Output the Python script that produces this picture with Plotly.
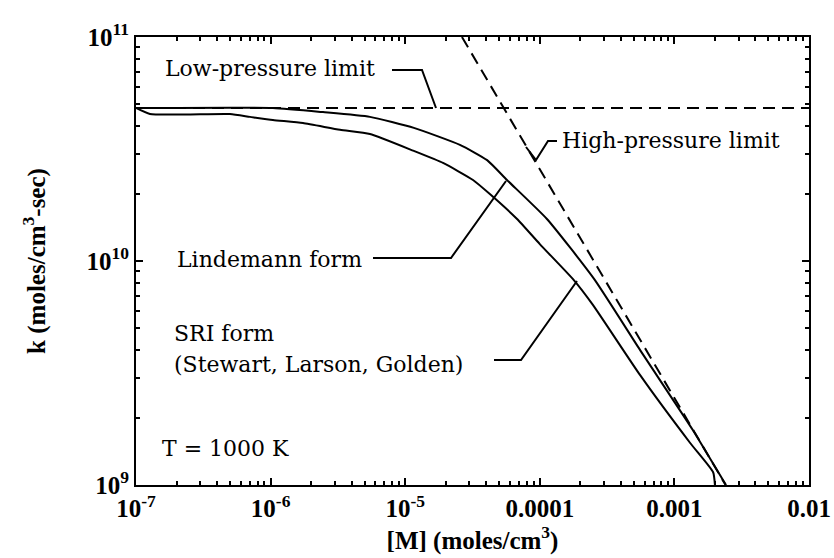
import plotly.graph_objects as go

# Rate constant k versus bath-gas concentration [M] at T = 1000 K
conc_lindemann = [1.00e-7, 1.04e-6, 2.45e-6, 5.47e-6, 1.16e-5, 2.55e-5, 4.06e-5,
                  5.70e-5, 1.13e-4, 2.53e-4, 5.55e-4, 1.37e-3, 2.30e-3, 2.42e-3]
k_lindemann = [4.82e10, 4.82e10, 4.62e10, 4.40e10, 3.93e10, 3.30e10, 2.82e10,
               2.30e10, 1.54e10, 8.32e9, 4.01e9, 1.76e9, 1.05e9, 1.00e9]

conc_sri = [1.00e-7, 1.27e-7, 4.99e-7, 7.03e-7, 1.04e-6, 1.74e-6, 3.28e-6,
            5.47e-6, 1.16e-5, 1.91e-5, 3.19e-5, 4.34e-5, 6.78e-5, 1.00e-4,
            1.79e-4, 2.48e-4, 5.55e-4, 1.31e-3, 1.94e-3, 2.00e-3]
k_sri = [4.82e10, 4.53e10, 4.53e10, 4.40e10, 4.26e10, 4.13e10, 3.85e10,
         3.69e10, 3.10e10, 2.74e10, 2.30e10, 1.97e10, 1.54e10, 1.19e10,
         8.22e9, 6.37e9, 3.10e9, 1.54e9, 1.14e9, 1.00e9]

conc_low_limit = [1e-7, 1e-2]
k_low_limit = [4.82e10, 4.82e10]

conc_high_limit = [2.64e-5, 2.40e-3]
k_high_limit = [1e11, 1e9]

# Axis ticks
x_tickvals = [1e-7, 1e-6, 1e-5, 1e-4, 1e-3, 1e-2]
x_ticktext = ["10<sup>-7</sup>", "10<sup>-6</sup>", "10<sup>-5</sup>", "0.0001", "0.001", "0.01"]
y_tickvals = [1e9, 1e10, 1e11]
y_ticktext = ["10<sup>9</sup>", "10<sup>10</sup>", "10<sup>11</sup>"]
x_minor = [m * 10.0 ** e for e in range(-7, -2) for m in range(2, 10)]
y_minor = [m * 10.0 ** e for e in range(9, 11) for m in range(2, 10)]

# Frame geometry (pixels) used to place labels and leader lines
W, H = 834, 558
L, R, T, B = 136, 809, 37, 485


def px(x):
    return (x - L) / (R - L)


def py(y):
    return (B - y) / (B - T)


fig = go.Figure()
dash_style = dict(color="black", width=2, dash="12px,7px")
solid_style = dict(color="black", width=2, shape="spline", smoothing=0.5)

fig.add_trace(go.Scatter(x=conc_low_limit, y=k_low_limit, mode="lines",
                         line=dash_style, name="Low-pressure limit"))
fig.add_trace(go.Scatter(x=conc_high_limit, y=k_high_limit, mode="lines",
                         line=dash_style, name="High-pressure limit"))
fig.add_trace(go.Scatter(x=conc_lindemann, y=k_lindemann, mode="lines",
                         line=solid_style, name="Lindemann form"))
fig.add_trace(go.Scatter(x=conc_sri, y=k_sri, mode="lines",
                         line=solid_style, name="SRI form"))

label_font = dict(family="DejaVu Serif", size=22, color="black")
labels = [
    ("Low-pressure limit", 163, 69),
    ("High-pressure limit", 560, 141),
    ("Lindemann form", 175, 259),
    ("SRI form", 172, 333),
    ("(Stewart, Larson, Golden)", 172, 364),
    ("T = 1000 K", 160, 448),
]
annotations = [
    dict(text=t, x=px(x), y=py(y), xref="paper", yref="paper",
         xanchor="left", yanchor="middle", showarrow=False, font=label_font)
    for t, x, y in labels
]

leaders = [
    [(392, 70), (422, 70), (436, 108)],
    [(557, 141), (548, 141), (536, 160), (526, 147)],
    [(373, 258), (451, 258), (506, 181)],
    [(494, 360), (521, 360), (577, 281)],
]
shapes = []
for pts in leaders:
    path = "M " + " L ".join(f"{px(x):.5f},{py(y):.5f}" for x, y in pts)
    shapes.append(dict(type="path", path=path, xref="paper", yref="paper",
                       line=dict(color="black", width=2)))

tick_font = dict(family="Liberation Serif", size=25, color="black", weight="bold")
title_font = dict(family="Liberation Serif", size=25, color="black", weight="bold")

axis_common = dict(
    showline=True, linecolor="black", linewidth=2, mirror="allticks",
    ticks="inside", ticklen=7, tickwidth=1.5, tickcolor="black",
    showgrid=False, zeroline=False, tickfont=tick_font, automargin=False,
)

fig.update_layout(
    width=W, height=H,
    margin=dict(l=L, r=W - R, t=T, b=H - B, autoexpand=False),
    paper_bgcolor="white", plot_bgcolor="white",
    showlegend=False,
    xaxis=dict(type="log", range=[-7, -2], tickmode="array",
               tickvals=x_tickvals, ticktext=x_ticktext,
               minor=dict(tickmode="array", tickvals=x_minor, ticks="inside",
                          ticklen=4, tickwidth=1.5, tickcolor="black"),
               title=dict(text="[M] (moles/cm<sup>3</sup>)", font=title_font, standoff=6),
               **axis_common),
    yaxis=dict(type="log", range=[9, 11], tickmode="array",
               tickvals=y_tickvals, ticktext=y_ticktext,
               minor=dict(tickmode="array", tickvals=y_minor, ticks="inside",
                          ticklen=4, tickwidth=1.5, tickcolor="black"),
               title=dict(text="k (moles/cm<sup>3</sup>-sec)", font=title_font, standoff=34),
               **axis_common),
    annotations=annotations,
    shapes=shapes,
)

fig.write_html("out.html")
